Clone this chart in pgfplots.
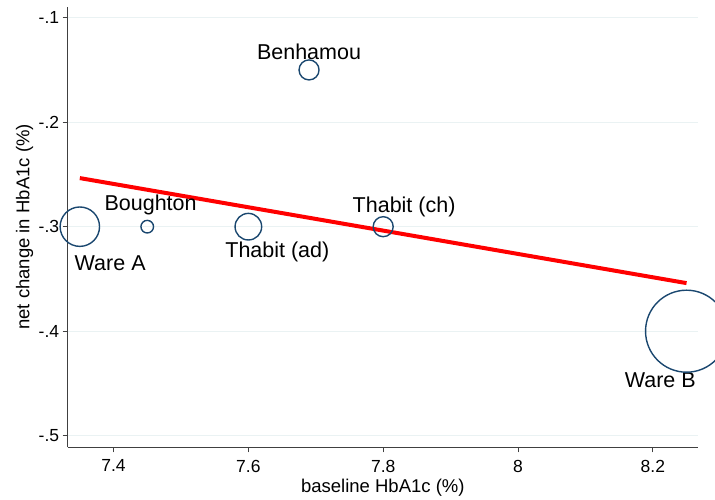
\documentclass[border=0pt]{standalone}
\usepackage{pgfplots}
\pgfplotsset{compat=1.18}
\usepackage{fontspec}
\setmainfont{Liberation Sans}
\definecolor{bub}{HTML}{1A476F}
\definecolor{grd}{HTML}{EAF2F3}
\definecolor{axc}{HTML}{404040}
\pgfplotstableread{
x y r
7.35 -0.30 19.7
7.45 -0.30 6.3
7.60 -0.30 13.3
7.80 -0.30 10.0
7.69 -0.15 10.0
8.25 -0.40 41.0
}\bubbles
\begin{document}
\begin{tikzpicture}
\begin{axis}[
 scale only axis, width=630.3pt, height=440.6pt,
 xmin=7.332, xmax=8.267, ymin=-0.5111, ymax=-0.0895,
 axis x line*=bottom, axis y line*=left,
 axis line style={axc, line width=1.2pt, -},
 xtick={7.4,7.6,7.8,8,8.2}, xticklabels={7.4,7.6,7.8,8,8.2},
 ytick={-0.5,-0.4,-0.3,-0.2,-0.1}, yticklabels={-.5,-.4,-.3,-.2,-.1},
 tick align=outside, major tick length=5pt,
 tick style={axc, line width=1pt},
 ymajorgrids, major grid style={grd, line width=1.2pt},
 ticklabel style={font=\fontsize{17.5}{20}\selectfont},
 xticklabel style={yshift=-4pt},
 xlabel={baseline HbA1c (\%)}, ylabel={net change in HbA1c (\%)},
 label style={font=\fontsize{18.5}{21}\selectfont},
 xlabel style={at={([yshift=-40pt]axis description cs:0.5,0)}, anchor=center},
 ylabel style={at={([xshift=-43pt]axis description cs:0,0.5)}, anchor=center},
 clip=false,
]
\addplot[scatter, only marks, mark=o,
  scatter/use mapped color={draw=bub, fill=none},
  visualization depends on={\thisrow{r}\as\rad},
  scatter/@pre marker code/.append style={/tikz/mark size=\rad pt},
  mark options={line width=1.4pt}]
  table[x=x, y=y] {\bubbles};
\addplot[red, line width=4pt, no marks] coordinates {(7.35,-0.2535) (8.25,-0.354)};
\begin{scope}[every node/.style={font=\fontsize{21.5}{25}\selectfont, inner sep=0pt, anchor=center, yshift=-2pt}]
\node at (axis cs:7.395,-0.3335) {Ware A};
\node at (axis cs:7.455,-0.2776) {Boughton};
\node at (axis cs:7.643,-0.3223) {Thabit (ad)};
\node at (axis cs:7.831,-0.2792) {Thabit (ch)};
\node at (axis cs:7.69,-0.1309) {Benhamou};
\node at (axis cs:8.211,-0.445) {Ware B};
\end{scope}
\end{axis}
\pgfresetboundingbox
\useasboundingbox (-67.7pt,-52.7pt) rectangle (647.3pt,447.3pt);
\end{tikzpicture}
\end{document}
